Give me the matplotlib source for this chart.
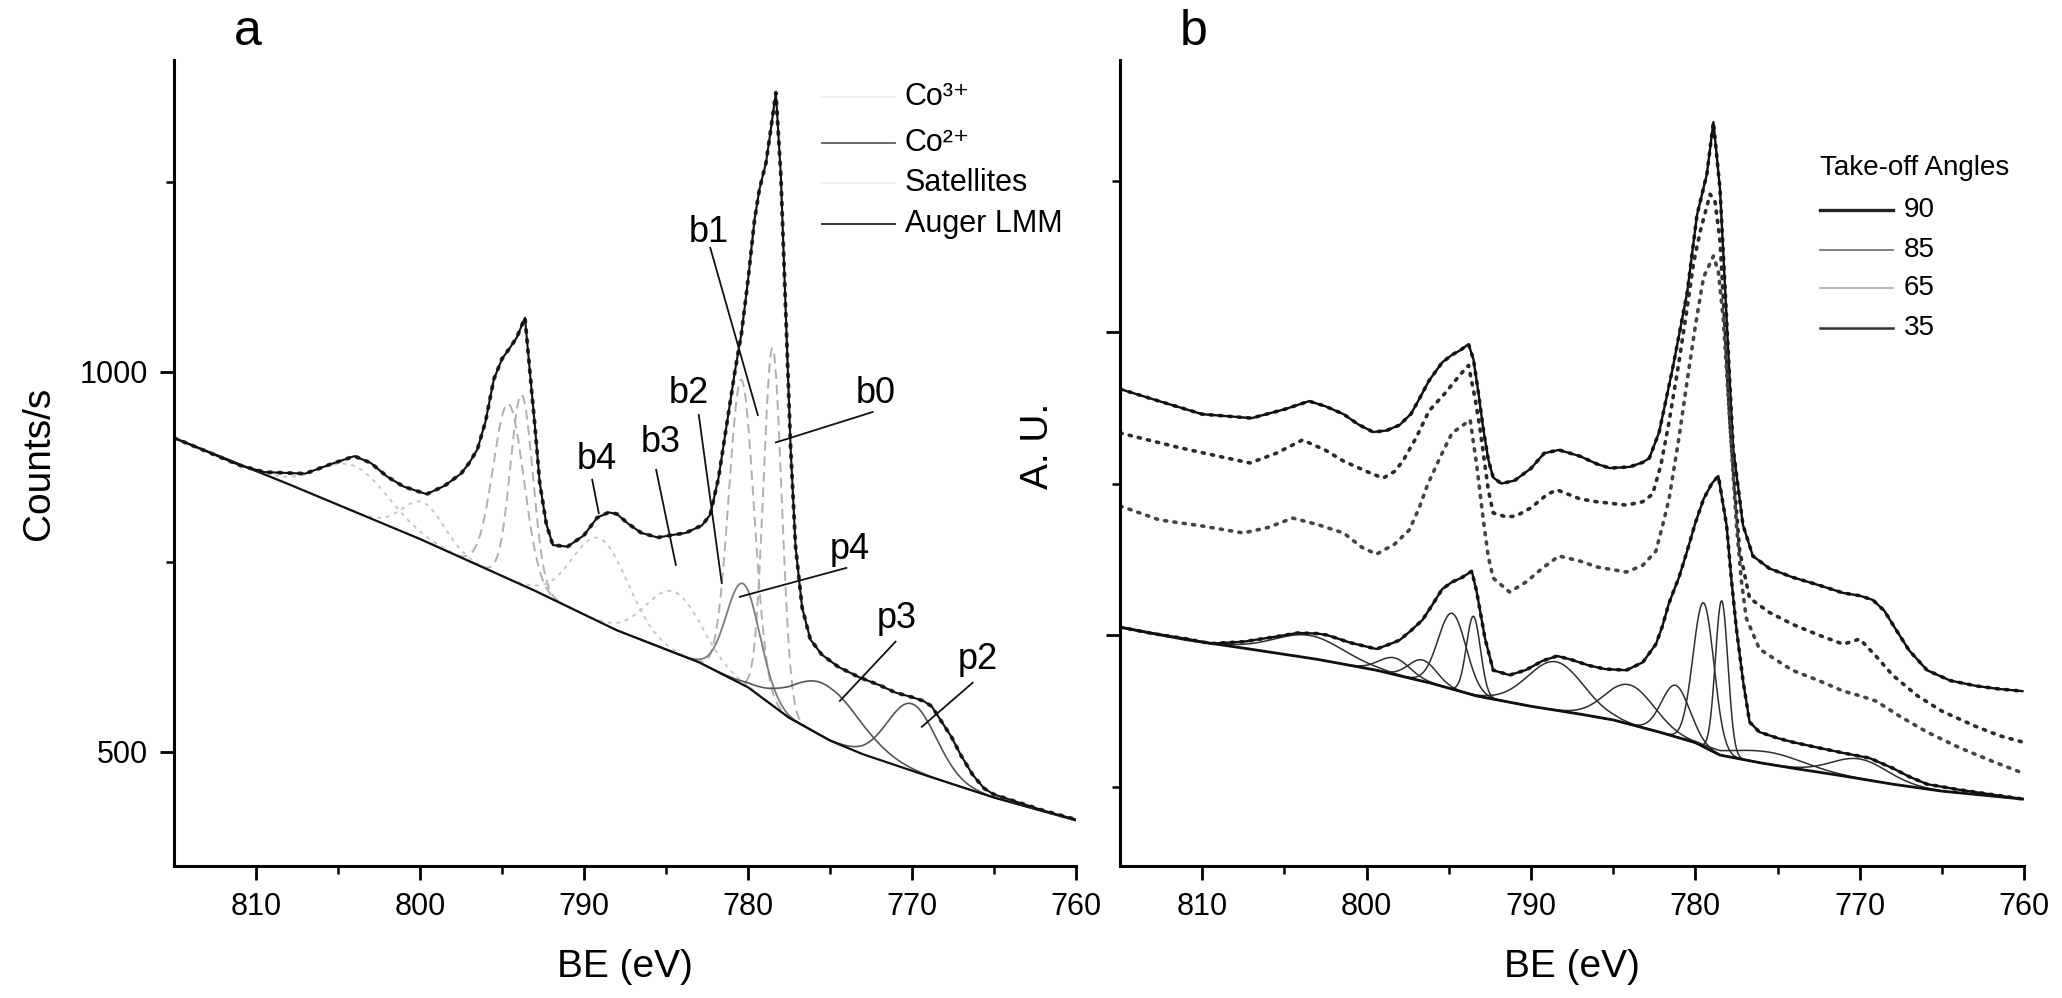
import numpy as np
import matplotlib
matplotlib.use('Agg')
import matplotlib.pyplot as plt
from matplotlib.ticker import FixedLocator, NullFormatter

plt.rcParams['font.family'] = ['Liberation Sans', 'DejaVu Sans']

# ---- panel a: Co 2p spectrum with fitted components ----
a_be = [815, 813, 811, 809.5, 807, 805.5, 804, 803, 802, 801, 799.6, 798.5, 797.5, 797,
        796.5, 796, 795.5, 795, 794.5, 794.1, 793.6, 793.3, 793, 792.7, 792.3, 791.9, 791,
        790, 789.2, 788.5, 788, 787.3, 786.5, 785.5, 784.7, 783.8, 782.8, 782.3, 781.8,
        781.3, 780.8, 780.4, 780, 779.6, 779.3, 778.9, 778.6, 778.3, 778.0, 777.7, 777.4,
        777.1, 776.7, 776.2, 775.5, 774.5, 773.2, 772, 771, 770, 769.3, 768.8, 768.2, 767.6,
        767, 766.3, 765.6, 765, 764, 763, 762, 761, 760]
a_cts = [913, 895, 877, 868, 866, 878, 889, 880, 862, 849, 839, 850, 866, 880,
         898, 935, 990, 1017, 1032, 1045, 1071, 1000, 930, 854, 800, 772, 770,
         785, 808, 815, 813, 800, 788, 782, 785, 788, 798, 812, 860,
         930, 1000, 1050, 1120, 1200, 1240, 1275, 1320, 1367, 1260, 1080, 900,
         770, 690, 648, 628, 612, 598, 588, 578, 572, 567, 560, 540, 520,
         495, 470, 452, 444, 437, 430, 423, 417, 411]

a_bg_be = [815, 808, 800, 793, 788, 783, 780, 777.5, 775, 773, 769, 765, 760]
a_bg_cts = [913, 852, 780, 712, 660, 618, 585, 545, 515, 497, 468, 440, 410]

a_comp_be = [778.5, 780.4, 793.8, 794.6, 780.3, 789.0, 784.5, 804.0, 799.8, 775.3, 770.0]
a_comp_amp = [470, 400, 250, 230, 133, 110, 80, 60, 50, 70, 88]
a_comp_fwhm = [1.3, 1.8, 1.6, 2.2, 2.4, 4.0, 4.0, 5.0, 3.0, 5.0, 3.5]
a_comp_kind = ['co3', 'co3', 'co3', 'co3', 'co2', 'sat', 'sat', 'sat', 'sat', 'aug', 'aug']

a_legend = ['Co³⁺', 'Co²⁺', 'Satellites', 'Auger LMM']
a_legend_kind = ['co3', 'co2', 'sat', 'aug']

peak_labels = ['b4', 'b3', 'b2', 'b1', 'b0', 'p4', 'p3', 'p2']

# ---- panel b: spectra at several take-off angles ----
angles = ['90', '85', '65', '35']

b90_be = [815, 812.5, 810, 807, 805, 803.5, 802.5, 801.4, 800.5, 799.6, 798.8, 798, 797.3,
          796.8, 796.2, 795.4, 794.8, 794.3, 793.8, 793.5, 793.2, 792.9, 792.6, 792.3, 791.8,
          791, 790, 789.2, 788.3, 787, 786, 785.2, 784, 783.2, 782.8, 782.2, 781.4, 780.5,
          779.9, 779.3, 778.9, 778.5, 778.1, 777.7, 777.1, 776.5, 775.5, 774.1, 772.5, 771,
          770, 769.2, 768.5, 768, 767, 765.9, 764.5, 762.9, 761.5, 760.1]
b90_v = [1812, 1770, 1729, 1716, 1745, 1772, 1755, 1729, 1695, 1670, 1675, 1693, 1730,
         1779, 1840, 1900, 1925, 1940, 1960, 1910, 1800, 1680, 1580, 1520, 1500,
         1510, 1550, 1600, 1611, 1590, 1565, 1551, 1555, 1570, 1584, 1670, 1875, 2129,
         2386, 2521, 2693, 2472, 2046, 1617, 1363, 1261, 1220, 1191, 1165, 1139,
         1130, 1116, 1080, 1036, 950, 884, 850, 832, 822, 815]

b85_be = [815, 813, 811.5, 809, 807.1, 805.5, 803.9, 802.5, 801.4, 800, 799, 798.3, 797.8,
          797, 796.2, 795.2, 794.3, 793.8, 793.4, 793.1, 792.6, 792.3, 791.5, 790.9, 790,
          789, 788.4, 787, 786, 784.2, 783.2, 782.6, 782.1, 781.6, 781, 780.5, 780.1, 779.7,
          779.1, 778.8, 778.5, 778.2, 777.9, 777.6, 777.3, 776.7, 775.5, 774.1, 772.5, 771,
          770, 769, 768, 766.5, 765, 763, 761.5, 760.1]
b85_v = [1667, 1640, 1620, 1590, 1568, 1600, 1644, 1610, 1574, 1540, 1518, 1540, 1574,
         1650, 1740, 1800, 1860, 1890, 1780, 1680, 1480, 1403, 1390, 1393, 1420,
         1465, 1479, 1449, 1440, 1429, 1440, 1465, 1560, 1703, 1900, 2079, 2230, 2333,
         2455, 2430, 2300, 2020, 1703, 1480, 1277, 1122, 1075, 1036, 1000, 970,
         987, 930, 868, 800, 749, 700, 668, 647]

b65_be = [815, 812.6, 810, 807.5, 806, 804.5, 803, 801.4, 800.3, 799.4, 798.3, 797.4, 796.8,
          796.3, 795.5, 794.8, 794.2, 793.7, 793.3, 792.9, 792.6, 792.3, 791.3, 790.3, 789.3,
          788.3, 787, 786, 784.2, 783.2, 782.4, 782, 781.6, 781, 780.5, 780, 779.5, 778.9,
          778.6, 778.3, 777.9, 777.5, 777.2, 776.9, 776.1, 775, 774.1, 772.5, 771, 770, 769,
          767.5, 765.9, 764, 762, 760.1]
b65_v = [1426, 1380, 1360, 1337, 1355, 1386, 1365, 1337, 1290, 1267, 1300, 1347, 1420,
         1495, 1590, 1667, 1690, 1710, 1560, 1380, 1260, 1188, 1142, 1175, 1221,
         1261, 1244, 1225, 1208, 1230, 1277, 1360, 1449, 1650, 1838, 2020, 2181, 2251,
         2200, 2043, 1700, 1363, 1180, 1056, 954, 915, 884, 850, 815, 800, 782,
         730, 680, 630, 585, 545]

b35_be = [815, 813, 811, 809.5, 807.5, 805.5, 804.2, 803, 802.4, 801, 799.4, 798.6, 798,
          797.3, 796.6, 796, 795.4, 794.8, 794.2, 793.6, 793.3, 792.8, 792.3, 791.3, 790.3,
          789.3, 788.4, 787.5, 786.5, 785.5, 784.2, 783.2, 782.4, 782, 781.6, 781, 780.5,
          780, 779.5, 779, 778.6, 778.1, 777.8, 777.5, 777.1, 776.7, 776.1, 775, 774.1,
          772.5, 771, 769.4, 768, 767, 765.9, 764, 762, 760.1]
b35_v = [1026, 1005, 988, 972, 978, 995, 1007, 1005, 1000, 975, 954, 970, 983,
         1015, 1050, 1100, 1152, 1175, 1190, 1211, 1142, 990, 884, 868, 885,
         915, 931, 918, 900, 888, 884, 910, 970, 1030, 1106, 1190, 1277,
         1370, 1449, 1500, 1525, 1363, 1180, 1020, 850, 713, 680, 660, 647,
         628, 611, 594, 561, 533, 508, 490, 474, 459]

b_bg_be = [815, 811, 807.5, 803, 799.4, 796, 793.3, 790, 787, 785, 782.2, 780, 778.5,
           776, 774.1, 771, 768, 765, 760.1]
b_bg_v = [1026, 985, 957, 920, 884, 840, 799, 765, 739, 720, 680, 645, 604,
          578, 561, 535, 508, 485, 459]

b_comp_be = [803.5, 798.3, 796.6, 794.8, 793.5, 788.5, 784.0, 781.2, 779.5, 778.4, 775.5, 770.0]
b_comp_amp = [75, 55, 70, 250, 260, 160, 130, 170, 475, 510, 40, 65]
b_comp_fwhm = [5.0, 2.2, 2.0, 2.0, 1.0, 4.0, 3.5, 2.0, 1.5, 0.9, 5.0, 4.0]


def gauss(x, center, amp, fwhm):
    return amp * np.exp(-4 * np.log(2) * ((x - center) / fwhm) ** 2)


def background(x, bg_be, bg_v):
    return np.interp(x, bg_be[::-1], bg_v[::-1])


def style_axes(ax):
    for side in ['top', 'right']:
        ax.spines[side].set_visible(False)
    for side in ['left', 'bottom']:
        ax.spines[side].set_linewidth(2.2)
    ax.set_xlim(815, 760)
    ax.xaxis.set_major_locator(FixedLocator([810, 800, 790, 780, 770, 760]))
    ax.xaxis.set_minor_locator(FixedLocator([805, 795, 785, 775, 765]))
    ax.tick_params(which='major', direction='out', length=10, width=2.0, labelsize=22, pad=9)
    ax.tick_params(which='minor', direction='out', length=6, width=1.8)
    ax.set_xlabel('BE (eV)', fontsize=28, labelpad=19)


fig = plt.figure(figsize=(20.62, 9.98), dpi=100)
ax_a = fig.add_axes([0.0844, 0.1323, 0.4374, 0.8076])
ax_b = fig.add_axes([0.5432, 0.1323, 0.4384, 0.8076])

# panel a
kind_style = {
    'co3': dict(color='#b0b0b0', ls=(0, (5, 3)), lw=1.4),
    'co2': dict(color='#7c7c7c', ls='-', lw=1.3),
    'sat': dict(color='#c8c8c8', ls=(0, (2, 2.5)), lw=1.4),
    'aug': dict(color='#555555', ls='-', lw=1.2),
}
a_bg_be = np.array(a_bg_be)
a_bg_cts = np.array(a_bg_cts)
for c, amp, w, kind in zip(a_comp_be, a_comp_amp, a_comp_fwhm, a_comp_kind):
    xs = np.linspace(c + 2.6 * w, c - 2.6 * w, 200)
    ax_a.plot(xs, background(xs, a_bg_be, a_bg_cts) + gauss(xs, c, amp, w), **kind_style[kind])

ax_a.plot(a_bg_be, a_bg_cts, color='#111111', lw=1.6)
ax_a.plot(a_be, a_cts, color='#333333', lw=2.8, ls=(0, (0.6, 2.0)), dash_capstyle='round')
ax_a.plot(a_be, a_cts, color='#111111', lw=1.5)

ax_a.set_ylim(350, 1410)
ax_a.yaxis.set_major_locator(FixedLocator([500, 1000]))
ax_a.yaxis.set_minor_locator(FixedLocator([750, 1250]))
style_axes(ax_a)
ax_a.set_ylabel('Counts/s', fontsize=28)
ax_a.yaxis.set_label_coords(-0.13, 0.5)

# peak labels with pointer lines
label_pos = [(789.2, 884), (785.3, 907), (783.6, 972), (782.4, 1183),
             (772.2, 972), (773.8, 766), (770.9, 675), (766.0, 621)]
pointer = [((789.5, 858), (789.1, 814)), ((785.6, 871), (784.4, 746)),
           ((783.0, 943), (781.6, 722)), ((782.3, 1163), (779.4, 943)),
           ((772.4, 947), (778.3, 907)), ((774.0, 742), (780.5, 704)),
           ((771.0, 645), (774.4, 567)), ((766.3, 591), (769.4, 533))]
for name, (tx, ty), (p0, p1) in zip(peak_labels, label_pos, pointer):
    ax_a.text(tx, ty, name, fontsize=26, ha='center', va='center')
    ax_a.plot([p0[0], p1[0]], [p0[1], p1[1]], color='#111111', lw=1.3)

# legend of panel a
leg_y = [0.954, 0.897, 0.847, 0.797]
leg_line_col = {'co3': '#f0f0f0', 'co2': '#6a6a6a', 'sat': '#f0f0f0', 'aug': '#333333'}
for txt, kind, y in zip(a_legend, a_legend_kind, leg_y):
    ax_a.plot([0.718, 0.799], [y, y], transform=ax_a.transAxes, color=leg_line_col[kind], lw=1.4)
    ax_a.text(0.810, y, txt, transform=ax_a.transAxes, fontsize=22, va='center', ha='left')

fig.text(234 / 2062, 1 - 32 / 998, 'a', fontsize=36, ha='left', va='center')

# panel b
b_bg_be = np.array(b_bg_be)
b_bg_v = np.array(b_bg_v)
for c, amp, w in zip(b_comp_be, b_comp_amp, b_comp_fwhm):
    xs = np.linspace(c + 2.6 * w, c - 2.6 * w, 200)
    ax_b.plot(xs, background(xs, b_bg_be, b_bg_v) + gauss(xs, c, amp, w), color='#2e2e2e', lw=1.1)
ax_b.plot(b_bg_be, b_bg_v, color='#111111', lw=2.0)

spectra = [(b90_be, b90_v), (b85_be, b85_v), (b65_be, b65_v), (b35_be, b35_v)]
dot_col = ['#222222', '#2a2a2a', '#444444', '#222222']
fit_line = [True, False, False, True]
for (be, v), dc, fit in zip(spectra, dot_col, fit_line):
    ax_b.plot(be, v, color=dc, lw=2.6, ls=(0, (0.6, 2.0)), dash_capstyle='round')
    if fit:
        ax_b.plot(be, v, color='#111111', lw=1.7)

ax_b.set_ylim(238, 2898)
ax_b.yaxis.set_major_locator(FixedLocator([1000, 2000]))
ax_b.yaxis.set_minor_locator(FixedLocator([500, 1500, 2500]))
ax_b.yaxis.set_major_formatter(NullFormatter())
style_axes(ax_b)
ax_b.set_ylabel('A. U.', fontsize=28)
ax_b.yaxis.set_label_coords(-0.071, 0.521)

# legend of panel b
ax_b.text(0.774, 0.866, 'Take-off Angles', transform=ax_b.transAxes, fontsize=20,
          va='center', ha='left')
b_leg_y = [0.814, 0.764, 0.717, 0.667]
b_leg_col = ['#222222', '#777777', '#aaaaaa', '#333333']
b_leg_lw = [2.4, 1.3, 1.2, 1.8]
for ang, y, col, lw in zip(angles, b_leg_y, b_leg_col, b_leg_lw):
    ax_b.plot([0.774, 0.855], [y, y], transform=ax_b.transAxes, color=col, lw=lw)
    ax_b.text(0.867, y, ang, transform=ax_b.transAxes, fontsize=20, va='center', ha='left')

fig.text(1180 / 2062, 1 - 32 / 998, 'b', fontsize=36, ha='left', va='center')

fig.savefig('out.png', dpi=100)
